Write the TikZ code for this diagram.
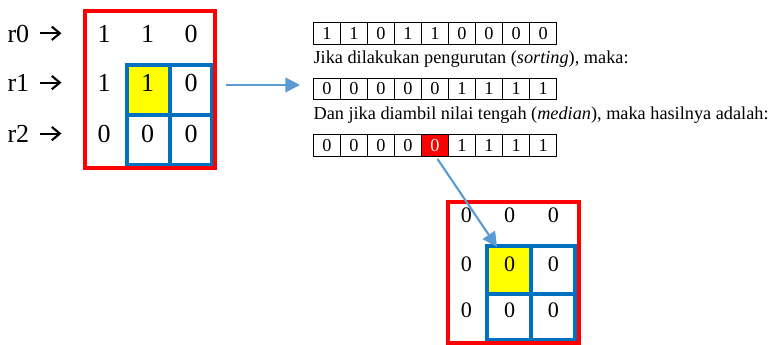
\documentclass[tikz,border=0pt]{standalone}
\usepackage{fontspec}
\setmainfont{Liberation Serif}
\usetikzlibrary{arrows.meta}
\definecolor{framered}{HTML}{FF0000}
\definecolor{cellblue}{HTML}{0070C0}
\definecolor{linkblue}{HTML}{5B9BD5}
\definecolor{markyellow}{HTML}{FFFF00}
\begin{document}
\begin{tikzpicture}[x=0.75pt,y=-0.75pt,
  redframe/.style={draw=framered,line width=3pt},
  bluegrid/.style={draw=cellblue,line width=3pt},
  bigdigit/.style={anchor=base,inner sep=0pt,font=\fontsize{19.5}{20}\selectfont},
  smalldigit/.style={anchor=base,inner sep=0pt,font=\fontsize{16.6}{18}\selectfont},
  rowlabel/.style={anchor=base west,inner sep=0pt,font=\fontsize{19.5}{20}\selectfont},
  rowarrow/.style={draw=black,line width=1.6pt,-{Straight Barb[length=6pt,width=10pt,line width=1.6pt]}},
  arrcell/.style={draw=black,line width=0.7pt,minimum width=20.28pt,minimum height=16.1pt,
                  inner sep=0pt,font=\fontsize{13.7}{15}\selectfont},
  caption/.style={anchor=base west,inner sep=0pt,font=\fontsize{13.7}{15}\selectfont},
  link/.style={draw=linkblue,line width=1.6pt,-{Triangle[length=11pt,width=11pt]}}
]
\useasboundingbox (0,0) rectangle (768,345);

% ---------- input window ----------
\node[rowlabel] (r0) at (7.3,42.7) {r0};
\node[rowlabel] (r1) at (7.3,92) {r1};
\node[rowlabel] (r2) at (7.3,143) {r2};
\foreach \n in {r0,r1,r2}
  \draw[rowarrow] (\n.base east) ++(11,-9.4) -- ++(21,0);

\fill[markyellow] (127,65.3) rectangle (169.7,115.3);
\draw[bluegrid] (127,65.3) rectangle (212.3,165);
\draw[bluegrid] (169.7,65.3) -- (169.7,165);
\draw[bluegrid] (127,115.3) -- (212.3,115.3);
\draw[redframe] (84.7,11.3) rectangle (214.7,168);

\foreach \v [count=\c] in {1,1,0}
  \node[bigdigit] (p0\c) at ({60.5+43.5*\c},42.7) {\v};
\foreach \v [count=\c] in {1,1,0}
  \node[bigdigit] (p1\c) at ({60.5+43.5*\c},92) {\v};
\foreach \v [count=\c] in {0,0,0}
  \node[bigdigit] (p2\c) at ({60.5+43.5*\c},143) {\v};

% ---------- arrays ----------
\foreach \v [count=\i] in {1,1,0,1,1,0,0,0,0}
  \node[arrcell] (a\i) at ({313.3+27.04*(\i-0.5)},33.5) {\v};
\node[caption] (t1) at (313.3,63.3) {Jika dilakukan pengurutan (\emph{sorting}), maka:};
\foreach \v [count=\i] in {0,0,0,0,0,1,1,1,1}
  \node[arrcell] (b\i) at ({313.3+27.04*(\i-0.5)},88.8) {\v};
\node[caption] (t2) at (313.3,120) {Dan jika diambil nilai tengah (\emph{median}), maka hasilnya adalah:};
\foreach \v [count=\i] in {0,0,0,0,0,1,1,1,1}
  \node[arrcell] (c\i) at ({313.3+27.04*(\i-0.5)},145.5) {\v};
\node[arrcell,fill=framered,text=white] (c5) at ({313.3+27.04*4.5},145.5) {0};

% ---------- output window ----------
\fill[markyellow] (487,246) rectangle (531.3,293.7);
\draw[bluegrid] (487,246) rectangle (574.7,340.3);
\draw[bluegrid] (531.3,246) -- (531.3,340.3);
\draw[bluegrid] (487,293.7) -- (574.7,293.7);
\draw[redframe] (448,202) rectangle (578.7,342.7);

\foreach \r/\y in {0/223,1/271.7,2/318}
  \foreach \c/\x in {1/466.5,2/509.7,3/553.3}
    \node[smalldigit] (q\r\c) at (\x,\y) {0};

% ---------- connectors ----------
\coordinate (inout) at (226,85);
\coordinate (inend) at (300,85);
\draw[link] (inout) -- (inend);
\coordinate (medout) at (437.5,159);
\coordinate (medend) at (497,247);
\draw[link] (medout) -- (medend);
\end{tikzpicture}
\end{document}
